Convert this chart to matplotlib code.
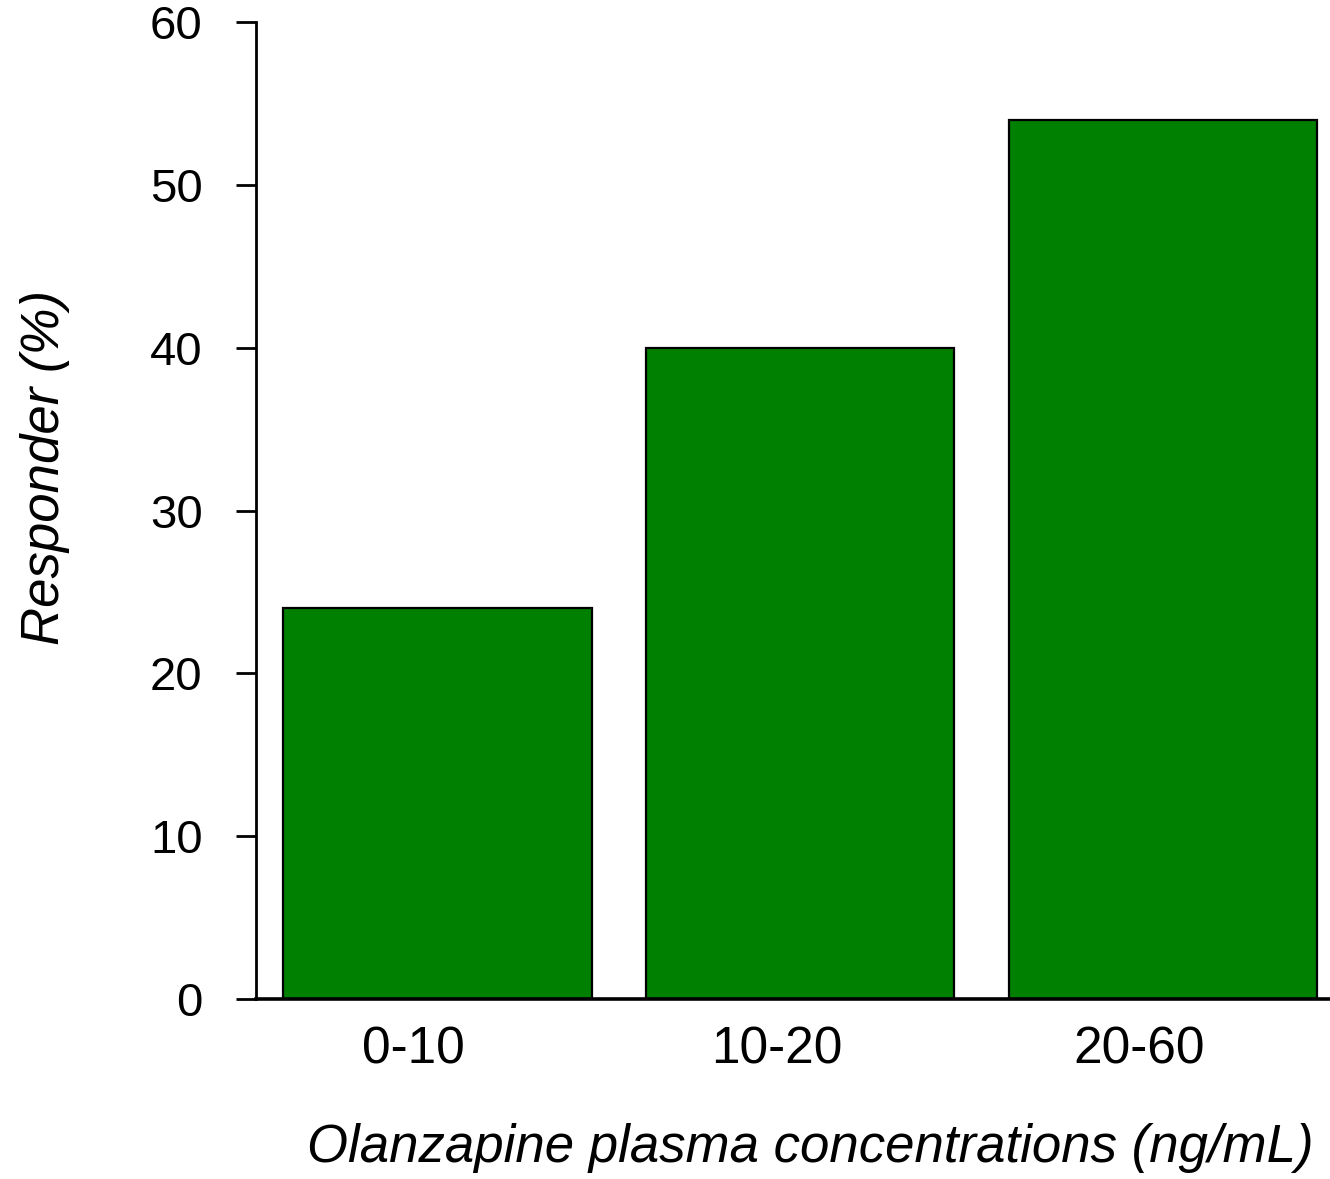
import matplotlib
matplotlib.use("Agg")
import matplotlib.pyplot as plt

categories = ["0-10", "10-20", "20-60"]
responders = [24, 40, 54]
yticks = [0, 10, 20, 30, 40, 50, 60]

plt.rcParams['font.family'] = ['Liberation Sans', 'DejaVu Sans']

fig = plt.figure(figsize=(13.30, 11.79), dpi=100)
ax = fig.add_axes([256/1330, 1-999/1179, 1-256/1330, (999-22)/1179])

x = list(range(len(categories)))
ax.bar(x, responders, width=0.85, color="#008000", edgecolor="black", linewidth=1.6, zorder=2)

ax.set_xlim(-0.5, 2.46)
ax.set_ylim(0, 60)
ax.set_yticks(yticks)
ax.set_yticklabels([str(v) for v in yticks], fontsize=34)
ax.set_xticks([])

# category labels, drawn slightly left of the bar centres as in the source
for xi, cat in zip(x, categories):
    ax.annotate(cat, xy=(xi, 0), xycoords=("data", "axes fraction"),
                xytext=(-17, -37), textcoords="offset points",
                ha="center", va="center", fontsize=37, annotation_clip=False)

for s in ["top", "right"]:
    ax.spines[s].set_visible(False)
ax.spines["left"].set_linewidth(2.0)
ax.spines["bottom"].set_linewidth(2.6)
ax.spines["bottom"].set_zorder(3)
ax.tick_params(axis="y", length=14.4, width=2.0, pad=24)

fig.text(810/1330, 1-1148/1179, "Olanzapine plasma concentrations (ng/mL)",
         fontsize=38, style="italic", ha="center", va="center")
fig.text(45/1330, 1-467/1179, "Responder (%)", fontsize=38, style="italic",
         rotation=90, ha="center", va="center")

fig.savefig("out.png", dpi=100)
